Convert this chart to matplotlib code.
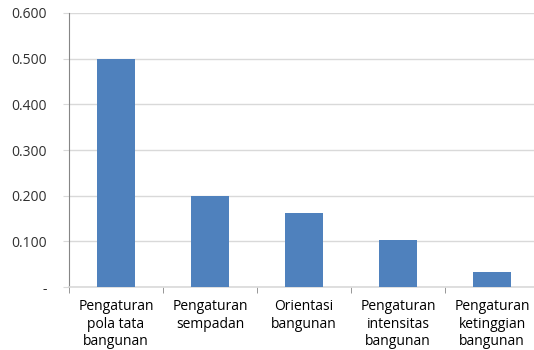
import matplotlib
matplotlib.use('Agg')
import matplotlib.pyplot as plt
import numpy as np

kategori = ['Pengaturan\npola tata\nbangunan', 'Pengaturan\nsempadan',
            'Orientasi\nbangunan', 'Pengaturan\nintensitas\nbangunan',
            'Pengaturan\nketinggian\nbangunan']
nilai = [0.500, 0.200, 0.163, 0.104, 0.033]
yticks = [0.0, 0.1, 0.2, 0.3, 0.4, 0.5, 0.6]
ylabels = ['-', '0.100', '0.200', '0.300', '0.400', '0.500', '0.600']

plt.rcParams['font.family'] = ['Open Sans', 'DejaVu Sans']

fig = plt.figure(figsize=(5.34, 3.5), dpi=100)
ax = fig.add_axes([69/534., 1 - 287/350., 470/534., 274/350.])

x = np.arange(len(nilai))
ax.bar(x, nilai, width=0.4, color='#4f81bd', zorder=3)

ax.set_xlim(-0.5, len(nilai) - 0.5)
ax.set_ylim(0, 0.6)
ax.set_yticks(yticks)
ax.set_yticklabels(ylabels, fontsize=10, color='#303030')
ax.set_xticks(x)
ax.set_xticklabels(kategori, fontsize=10, color='#000000', linespacing=1.2)
ax.set_xticks(np.arange(len(nilai) + 1) - 0.5, minor=True)

ax.grid(axis='y', color='#d9d9d9', lw=1, zorder=0)
for s in ['top', 'right']:
    ax.spines[s].set_visible(False)
ax.spines['left'].set_color('#868686')
ax.spines['bottom'].set_color('#d9d9d9')
ax.spines['bottom'].set_linewidth(1.2)

ax.tick_params(axis='y', length=4, color='#d9d9d9', pad=12)
ax.tick_params(axis='x', which='major', length=0, pad=9)
ax.tick_params(axis='x', which='minor', length=4, color='#868686')

fig.savefig('out.png', dpi=100)
